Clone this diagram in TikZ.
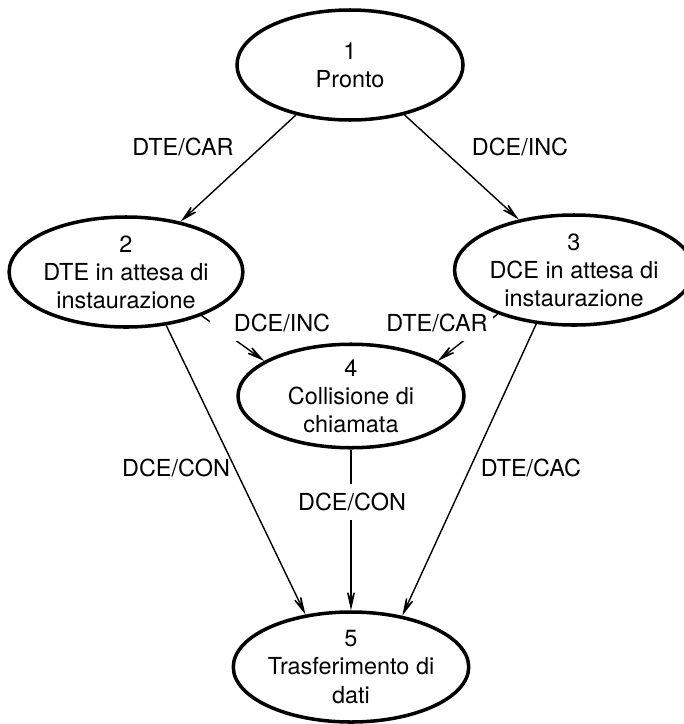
\documentclass[tikz,border=0pt]{standalone}
\usepackage{fontspec}
\setmainfont{TeX Gyre Heros}
\usetikzlibrary{shapes.geometric,arrows.meta,backgrounds}

\tikzset{
  stato/.style={ellipse, draw, line width=1.5pt, inner sep=0pt,
    minimum width=3.39cm, minimum height=1.65cm, align=center},
  evento/.style={inner sep=2pt},
  coperto/.style={evento, fill=white, inner ysep=4pt},
  freccia/.style={line width=0.6pt, -{Stealth[length=12pt,width=5.5pt,inset=7.5pt]}}
}

\begin{document}
\begin{tikzpicture}[x=0.015cm,y=-0.015cm]
	\useasboundingbox (0,0) rectangle (684,724);

	% stati
	\node[stato] (n1) at (350,65) {1\\Pronto};
	\node[stato] (n2) at (126,272) {2\\DTE in attesa di\\instaurazione};
	\node[stato, minimum width=3.27cm] (n3) at (574,270) {3\\DCE in attesa di\\instaurazione};
	\node[stato, minimum height=1.46cm] (n4) at (351,396) {4\\Collisione di\\chiamata};
	\node[stato, minimum width=3.42cm] (n5) at (351,667) {5\\Trasferimento di\\dati};

	% transizioni sotto gli stati
	\begin{pgfonlayer}{background}
		\draw[freccia] (n1) -- (n2);
		\draw[freccia] (n1) -- (n3);
		\draw[freccia] (n2.-30) -- (n4.158);
		\draw[freccia] (n3.-150) -- (n4.22);
		\draw[freccia] (n2.-53) -- (n5.131);
		\draw[freccia] (n4) -- (n5);
		\draw[freccia] (n3.-125) -- (n5.45);

		\node[evento] (e12) at (183,147) {DTE/CAR};
		\node[evento] (e13) at (520,147) {DCE/INC};
		\node[coperto, inner xsep=10pt] (e24) at (282,323) {DCE/INC};
		\node[coperto, inner xsep=2.5pt] (e34) at (437,323) {DTE/CAR};
		\node[evento] (e25) at (176,468) {DCE/CON};
		\node[coperto] (e45) at (352,502) {DCE/CON};
		\node[evento] (e35) at (531,468) {DTE/CAC};
	\end{pgfonlayer}
\end{tikzpicture}
\end{document}
